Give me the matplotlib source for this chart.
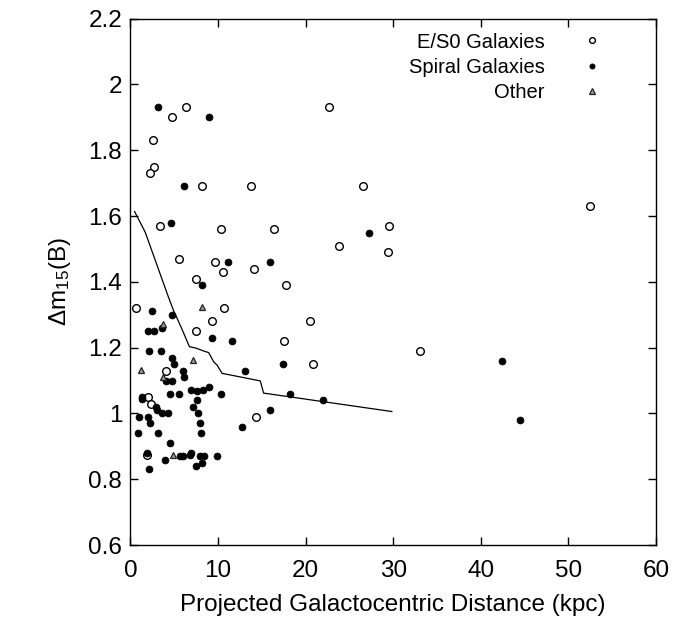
import matplotlib
matplotlib.use("Agg")
import matplotlib.pyplot as plt

plt.rcParams['font.family'] = ['Liberation Sans', 'DejaVu Sans']
plt.rcParams['mathtext.fontset'] = 'custom'
plt.rcParams['mathtext.rm'] = 'Liberation Sans'
plt.rcParams['mathtext.it'] = 'Liberation Sans'

# E/S0 galaxies (open circles)
es0_x = [22.69, 6.37, 4.77, 2.60, 2.68, 2.19, 8.20, 13.72, 3.40, 10.30, 16.35, 5.50,
         9.61, 10.59, 14.06, 7.48, 17.72, 26.54, 29.51, 23.80, 29.39, 20.49, 17.56,
         33.08, 20.83, 14.33, 0.63, 10.64, 9.27, 7.44, 4.05, 2.03, 2.31, 1.92, 52.49]
es0_y = [1.93, 1.93, 1.90, 1.83, 1.75, 1.73, 1.69, 1.69, 1.57, 1.56, 1.56, 1.47,
         1.46, 1.43, 1.44, 1.41, 1.39, 1.69, 1.57, 1.51, 1.49, 1.28, 1.22,
         1.19, 1.15, 0.99, 1.32, 1.32, 1.28, 1.25, 1.13, 1.05, 1.03, 0.874, 1.63]

# Spiral galaxies (filled circles)
sp_x = [3.17, 9.00, 6.14, 4.66, 11.10, 15.92, 8.16, 27.26, 17.37, 18.17, 21.94, 15.96,
        2.42, 4.70, 3.56, 1.96, 2.68, 9.27, 11.62, 2.11, 3.45, 4.77, 4.93, 6.03, 13.07,
        4.02, 4.77, 6.14, 6.91, 7.59, 8.31, 9.00, 4.54, 5.54, 10.33, 1.35, 1.35, 7.59,
        7.17, 2.91, 2.99, 3.56, 4.32, 7.71, 1.00, 2.03, 2.23, 7.90, 12.76, 0.89, 3.11,
        8.05, 4.51, 1.92, 5.65, 5.96, 6.79, 6.91, 7.90, 8.39, 9.84, 3.97, 8.20, 7.44,
        2.15, 42.47, 44.49]
sp_y = [1.93, 1.90, 1.69, 1.58, 1.46, 1.46, 1.39, 1.55, 1.15, 1.06, 1.04, 1.01,
        1.31, 1.30, 1.26, 1.25, 1.25, 1.23, 1.22, 1.19, 1.19, 1.17, 1.15, 1.13, 1.13,
        1.10, 1.10, 1.11, 1.07, 1.068, 1.07, 1.08, 1.06, 1.06, 1.06, 1.051, 1.044, 1.04,
        1.02, 1.019, 1.01, 1.00, 1.00, 1.00, 0.99, 0.99, 0.97, 0.97, 0.96, 0.94, 0.94,
        0.94, 0.91, 0.881, 0.871, 0.871, 0.874, 0.879, 0.871, 0.871, 0.871, 0.86, 0.85, 0.84,
        0.83, 1.16, 0.979]

# Other (triangles)
ot_x = [8.13, 3.71, 7.17, 1.16, 3.71, 4.89]
ot_y = [1.323, 1.273, 1.164, 1.132, 1.111, 0.874]

# Curve
line_x = [0.46, 1.68, 4.33, 4.90, 5.85, 6.73, 7.56, 8.24, 8.93, 9.50, 9.89, 10.46,
          14.82, 15.20, 29.84]
line_y = [1.614, 1.551, 1.354, 1.314, 1.258, 1.203, 1.198, 1.191, 1.185, 1.157,
          1.147, 1.122, 1.099, 1.062, 1.006]

fig = plt.figure(figsize=(6.89, 6.21), dpi=100)
ax = fig.add_axes([0.1894, 0.1222, 0.7626, 0.8478])

ax.plot(line_x, line_y, color='black', lw=0.9, zorder=1)
ax.plot(es0_x, es0_y, linestyle='none', marker='o', ms=5.5, mfc='white', mec='black',
        mew=1.0, label='E/S0 Galaxies', zorder=3)
ax.plot(sp_x, sp_y, linestyle='none', marker='o', ms=5.0, mfc='black', mec='black',
        mew=0.5, label='Spiral Galaxies', zorder=3)
ax.plot(ot_x, ot_y, linestyle='none', marker='^', ms=5, mfc='#999999', mec='#222222',
        mew=0.9, label='Other', zorder=3)

ax.set_xlim(0, 60)
ax.set_ylim(0.6, 2.2)
ax.set_xticks([0, 10, 20, 30, 40, 50, 60])
ax.set_yticks([0.6, 0.8, 1.0, 1.2, 1.4, 1.6, 1.8, 2.0, 2.2])
ax.set_yticklabels(['0.6', '0.8', '1', '1.2', '1.4', '1.6', '1.8', '2', '2.2'])
ax.tick_params(direction='in', length=5.5, width=1.0, labelsize=17.5,
               top=True, right=True)
ax.tick_params(axis='x', pad=11)
ax.tick_params(axis='y', pad=6)
for s in ax.spines.values():
    s.set_linewidth(1.0)

ax.set_xlabel('Projected Galactocentric Distance (kpc)', fontsize=17.5, labelpad=8)
ax.set_ylabel(r'$\Delta$m$_{15}$(B)', fontsize=17.5, labelpad=11)

leg = ax.legend(loc='upper right', frameon=False, markerfirst=False, fontsize=14.5,
                markerscale=0.75, handletextpad=1.85, labelspacing=0.31,
                bbox_to_anchor=(0.932, 1.008), handlelength=1.0)

fig.savefig('out.png', dpi=100)
